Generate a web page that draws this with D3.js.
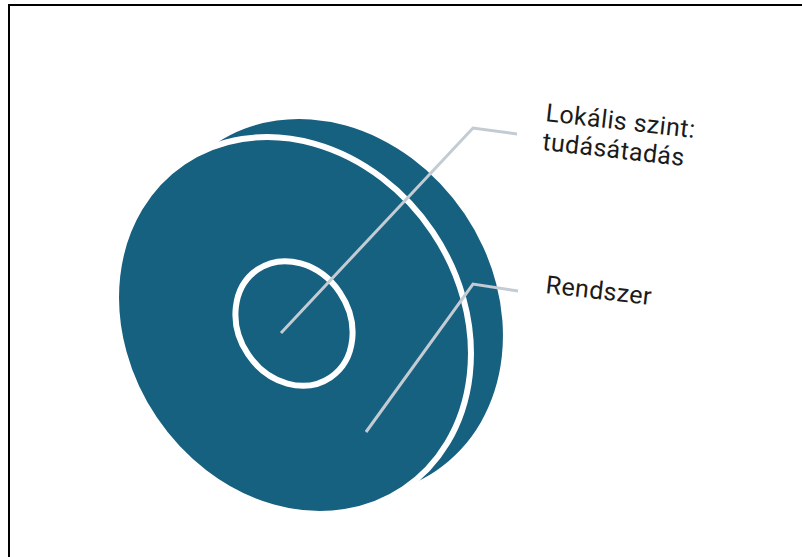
<!DOCTYPE html>
<html>
<head>
<meta charset="utf-8">
<script src="https://cdn.jsdelivr.net/npm/d3@7"></script>
<style>
  body { margin: 0; background: #fff; }
  svg { display: block; }
</style>
</head>
<body>
<svg id="chart" width="802" height="557"></svg>
<script>
// levels of the diagram, outer to inner
var levels = ["Rendszer", "Lokális szint"];
var levelSize = [1, 0.33];   // relative size of each disc
var labelLines = [["Lokális szint:", "tudásátadás"], ["Rendszer"]];

var svg = d3.select("#chart");

// frame (only top and left edge visible)
svg.append("path")
  .attr("d", "M9,557V5H802")
  .attr("fill", "none")
  .attr("stroke", "#000")
  .attr("stroke-width", 2);

var teal = "#166080";
var cx = 293.5, cy = 325.5, tilt = -34;

// size scale: relative size -> radii
var rxScale = d3.scaleLinear().domain([0, 1]).range([0, 167.7]);
var ryScale = d3.scaleLinear().domain([0, 1]).range([0, 197.2]);

// back face of the disc (gives the thickness)
svg.append("ellipse")
  .attr("transform", `translate(${cx + 32},${cy - 18}) rotate(${tilt})`)
  .attr("rx", rxScale(levelSize[0]))
  .attr("ry", ryScale(levelSize[0]))
  .attr("fill", teal);

// front face
svg.append("ellipse")
  .attr("transform", `translate(${cx},${cy}) rotate(${tilt})`)
  .attr("rx", rxScale(levelSize[0]))
  .attr("ry", ryScale(levelSize[0]))
  .attr("fill", teal)
  .attr("stroke", "#fff")
  .attr("stroke-width", 6);

// inner ring
svg.append("ellipse")
  .attr("transform", `translate(${cx + 0.5},${cy - 2}) rotate(${tilt})`)
  .attr("rx", rxScale(levelSize[1]))
  .attr("ry", ryScale(levelSize[1]))
  .attr("fill", "none")
  .attr("stroke", "#fff")
  .attr("stroke-width", 6);

// leader lines: from inside the level to the label
var leaders = [
  [[281, 333], [473, 128], [517, 134]],
  [[366, 432], [473, 284], [518, 291]]
];

svg.selectAll(".leader")
  .data(leaders)
  .enter()
  .append("path")
  .attr("class", "leader")
  .attr("d", d => d3.line()(d))
  .attr("fill", "none")
  .attr("stroke", "#c3cbd3")
  .attr("stroke-width", 3);

// labels, slightly tilted like the disc
var labelPos = [[545, 121], [545, 293]];

labelLines.forEach((lines, i) => {
  var t = svg.append("text")
    .attr("transform", `translate(${labelPos[i][0]},${labelPos[i][1]}) rotate(6.5)`)
    .attr("font-family", "Roboto, sans-serif")
    .attr("font-size", 25)
    .attr("letter-spacing", 0.4)
    .attr("fill", "#1b1b1b");
  t.selectAll("tspan")
    .data(lines)
    .enter()
    .append("tspan")
    .attr("x", 0)
    .attr("dy", (d, j) => j === 0 ? 0 : 29)
    .text(d => d);
});
</script>
</body>
</html>
